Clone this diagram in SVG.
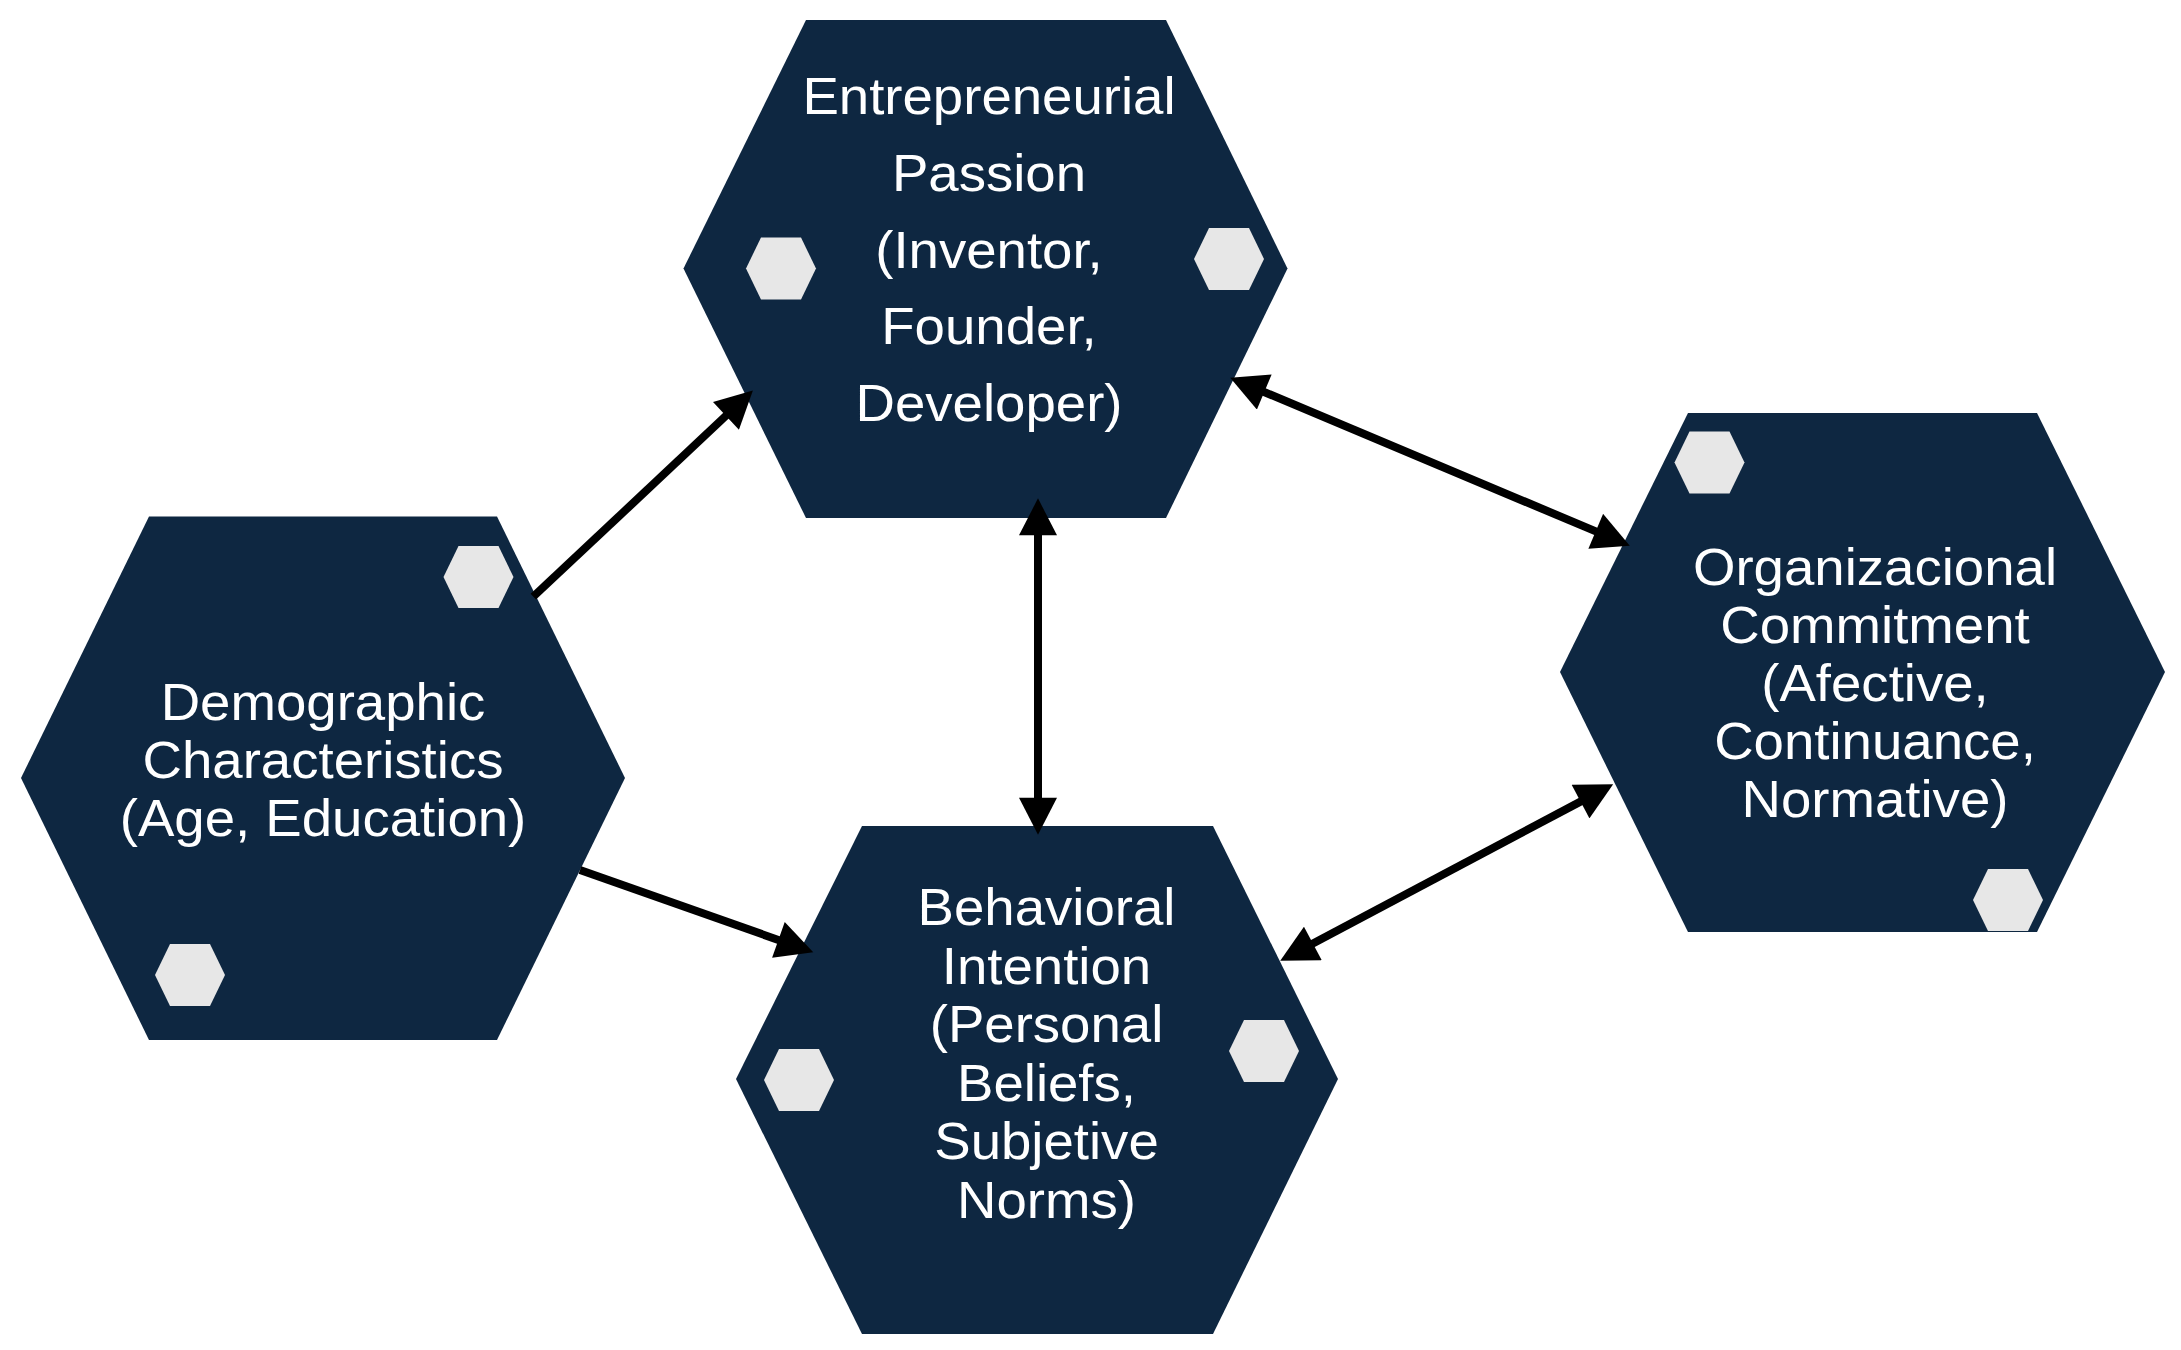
<svg xmlns="http://www.w3.org/2000/svg" width="2181" height="1350" viewBox="0 0 2181 1350">
  <style>
    .hex { fill: #0E2741; }
    .mini { fill: #E7E7E7; }
    .t { font-family: "Liberation Sans", Arial, sans-serif; font-size: 52px; fill: #FFFFFF; text-anchor: middle; }
    .conn { stroke: #000000; stroke-width: 8; fill: none; }
  </style>
  <defs>
    <marker id="ah" markerUnits="userSpaceOnUse" markerWidth="38" markerHeight="38" viewBox="0 0 35 36" refX="5" refY="18" orient="auto-start-reverse">
      <path d="M0,0 L35,18 L0,36 Z" fill="#000000"/>
    </marker>
    <polygon id="minihex" points="-35,0 -20,-31 20,-31 35,0 20,31 -20,31"/>
  </defs>
  <rect width="2181" height="1350" fill="#FFFFFF"/>

  <g id="node-entrepreneurial-passion">
    <polygon class="hex" points="683.5,268.5 806,20 1166,20 1287.5,268.5 1166,518 806,518"/>
    <use href="#minihex" class="mini" x="781" y="268.5"/>
    <use href="#minihex" class="mini" x="1229" y="259"/>
    <g transform="translate(989,0) scale(1.05,1)">
      <text class="t" x="0" y="114">Entrepreneurial</text>
      <text class="t" x="0" y="191">Passion</text>
      <text class="t" x="0" y="268">(Inventor,</text>
      <text class="t" x="0" y="344">Founder,</text>
      <text class="t" x="0" y="421">Developer)</text>
    </g>
  </g>

  <g id="node-demographic">
    <polygon class="hex" points="21,778 149,516.5 497,516.5 625,778 497,1040 149,1040"/>
    <use href="#minihex" class="mini" x="478.5" y="577"/>
    <use href="#minihex" class="mini" x="190" y="975"/>
    <g transform="translate(323,0) scale(1.05,1)">
      <text class="t" x="0" y="720">Demographic</text>
      <text class="t" x="0" y="778">Characteristics</text>
      <text class="t" x="0" y="836">(Age, Education)</text>
    </g>
  </g>

  <g id="node-organizational-commitment">
    <polygon class="hex" points="1560,672 1688,413 2037,413 2165,672 2037,932 1688,932"/>
    <use href="#minihex" class="mini" x="1709.5" y="462.5"/>
    <use href="#minihex" class="mini" x="2008" y="900"/>
    <g transform="translate(1875,0) scale(1.05,1)">
      <text class="t" x="0" y="585">Organizacional</text>
      <text class="t" x="0" y="643">Commitment</text>
      <text class="t" x="0" y="701">(Afective,</text>
      <text class="t" x="0" y="759">Continuance,</text>
      <text class="t" x="0" y="817">Normative)</text>
    </g>
  </g>

  <g id="node-behavioral-intention">
    <polygon class="hex" points="736,1079 862,826 1213,826 1338,1079 1213,1334 862,1334"/>
    <use href="#minihex" class="mini" x="799" y="1080"/>
    <use href="#minihex" class="mini" x="1264" y="1051"/>
    <g transform="translate(1046.5,0) scale(1.05,1)">
      <text class="t" x="0" y="925">Behavioral</text>
      <text class="t" x="0" y="984">Intention</text>
      <text class="t" x="0" y="1042">(Personal</text>
      <text class="t" x="0" y="1101">Beliefs,</text>
      <text class="t" x="0" y="1159">Subjetive</text>
      <text class="t" x="0" y="1218">Norms)</text>
    </g>
  </g>

  <g id="connectors">
    <line class="conn" x1="533.3" y1="596.7" x2="729.8" y2="412.2" marker-end="url(#ah)"/>
    <line class="conn" x1="580" y1="870" x2="783.4" y2="941.7" marker-end="url(#ah)"/>
    <line class="conn" x1="1038" y1="530" x2="1038" y2="803" marker-start="url(#ah)" marker-end="url(#ah)"/>
    <line class="conn" x1="1259.4" y1="390" x2="1600.6" y2="533.4" marker-start="url(#ah)" marker-end="url(#ah)"/>
    <line class="conn" x1="1308.2" y1="946" x2="1585.2" y2="799.1" marker-start="url(#ah)" marker-end="url(#ah)"/>
  </g>
</svg>
